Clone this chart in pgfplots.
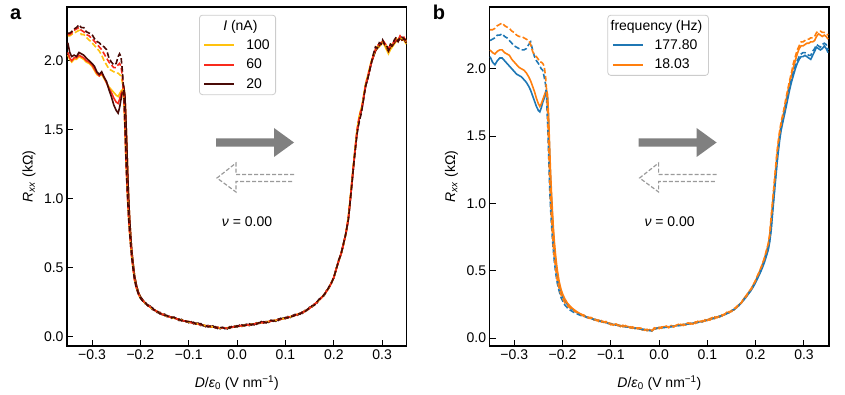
\documentclass[border=0pt]{standalone}
\usepackage{fontspec}
\setmainfont{Liberation Sans}
\usepackage{pgfplots}
\pgfplotsset{compat=1.18}
\usepackage{pgfplotstable}

\definecolor{c100}{HTML}{FFC20E}
\definecolor{c60}{HTML}{F92A1C}
\definecolor{c20}{HTML}{4A0A06}
\definecolor{cblue}{HTML}{1F77B4}
\definecolor{corange}{HTML}{FF7F0E}
\definecolor{arrowgray}{HTML}{808080}
\definecolor{dashgray}{HTML}{9A9A9A}

% panel a: solid (s) and dashed (d) sweeps for I = 100, 60, 20 nA
\pgfplotstableread{
x s100 s60 s20 d100 d60 d20
-0.350 2.04 2.06 2.13 2.18 2.19 2.20
-0.346 2.01 2.02 2.06 2.18 2.19 2.20
-0.342 1.99 2.00 2.03 2.19 2.20 2.21
-0.337 2.01 2.02 2.04 2.20 2.22 2.23
-0.332 2.01 2.02 2.03 2.21 2.23 2.24
-0.327 2.03 2.04 2.06 2.22 2.24 2.26
-0.322 2.02 2.03 2.05 2.19 2.22 2.24
-0.317 2.01 2.02 2.04 2.19 2.21 2.24
-0.312 1.99 2.00 2.02 2.17 2.19 2.21
-0.306 1.98 1.99 2.00 2.15 2.18 2.20
-0.300 1.96 1.97 1.98 2.13 2.16 2.19
-0.295 1.93 1.94 1.96 2.11 2.14 2.16
-0.290 1.90 1.91 1.92 2.09 2.12 2.14
-0.285 1.89 1.89 1.90 2.07 2.10 2.13
-0.280 1.90 1.91 1.92 2.04 2.08 2.11
-0.275 1.87 1.88 1.88 2.00 2.05 2.10
-0.270 1.84 1.84 1.85 1.97 2.02 2.08
-0.265 1.81 1.80 1.79 1.94 1.99 2.02
-0.260 1.79 1.77 1.74 1.93 1.97 1.99
-0.255 1.77 1.73 1.68 1.92 1.95 1.97
-0.250 1.75 1.70 1.64 1.91 1.95 1.98
-0.246 1.74 1.69 1.62 1.91 1.97 2.03
-0.243 1.76 1.72 1.66 1.90 1.98 2.05
-0.240 1.78 1.76 1.72 1.89 1.96 2.03
-0.237 1.79 1.78 1.77 1.84 1.88 1.92
-0.234 1.80 1.80 1.80 1.70 1.72 1.75
-0.232 1.74 1.74 1.75 1.50 1.52 1.54
-0.230 1.58 1.58 1.58 1.30 1.30 1.32
-0.228 1.38 1.38 1.38 1.12 1.12 1.13
-0.226 1.16 1.16 1.16 0.97 0.97 0.98
-0.224 0.98 0.98 0.98 0.84 0.84 0.85
-0.222 0.84 0.84 0.84 0.74 0.74 0.75
-0.220 0.73 0.73 0.73 0.66 0.66 0.66
-0.218 0.63 0.63 0.63 0.58 0.58 0.58
-0.215 0.53 0.53 0.53 0.49 0.49 0.49
-0.212 0.44 0.44 0.44 0.41 0.41 0.41
-0.208 0.37 0.37 0.37 0.35 0.35 0.35
-0.204 0.32 0.32 0.32 0.31 0.31 0.31
-0.200 0.29 0.29 0.29 0.28 0.28 0.28
-0.195 .262 .262 .268 .262 .262 .258
-0.190 .245 .245 .240 .245 .245 .251
-0.185 .228 .228 .232 .228 .228 .225
-0.180 .216 .216 .223 .216 .216 .218
-0.175 .203 .203 .197 .203 .203 .210
-0.170 .192 .192 .194 .192 .192 .187
-0.165 .182 .182 .175 .182 .182 .186
-0.160 .172 .172 .177 .172 .172 .166
-0.155 .163 .163 .160 .163 .163 .166
-0.150 .156 .156 .164 .156 .156 .154
-0.145 .150 .150 .146 .150 .150 .155
-0.140 .145 .145 .148 .145 .145 .138
-0.135 .140 .140 .134 .140 .140 .142
-0.130 .135 .135 .140 .135 .135 .141
-0.125 .130 .130 .132 .130 .130 .126
-0.120 .125 .125 .118 .125 .125 .128
-0.115 .120 .120 .126 .120 .120 .115
-0.110 .115 .115 .113 .115 .115 .122
-0.105 .111 .111 .115 .111 .111 .108
-0.100 .107 .107 .102 .107 .107 .111
-0.095 .103 .103 .109 .103 .103 .099
-0.090 .099 .099 .094 .099 .099 .105
-0.085 .095 .095 .099 .095 .095 .092
-0.080 .091 .091 .098 .091 .091 .093
-0.075 .088 .088 .082 .088 .088 .095
-0.070 .084 .084 .086 .084 .084 .079
-0.065 .080 .080 .073 .080 .080 .084
-0.060 .077 .077 .082 .077 .077 .071
-0.055 .074 .074 .071 .074 .074 .077
-0.050 .071 .071 .079 .071 .071 .069
-0.045 .068 .068 .064 .068 .068 .073
-0.040 .066 .066 .069 .066 .066 .059
-0.035 .064 .064 .058 .064 .064 .066
-0.030 .062 .062 .067 .062 .062 .068
-0.025 .062 .062 .064 .062 .062 .058
-0.020 .064 .064 .057 .064 .064 .067
-0.015 .067 .067 .073 .067 .067 .062
-0.010 .070 .070 .068 .070 .070 .077
-0.005 .073 .073 .077 .073 .073 .070
0.000 .076 .076 .071 .076 .076 .080
0.005 .078 .078 .084 .078 .078 .074
0.010 .080 .080 .075 .080 .080 .086
0.015 .082 .082 .086 .082 .082 .079
0.020 .084 .084 .091 .084 .084 .086
0.025 .087 .087 .081 .087 .087 .094
0.030 .090 .090 .092 .090 .090 .085
0.035 .093 .093 .086 .093 .093 .097
0.040 .096 .096 .101 .096 .096 .090
0.045 .099 .099 .096 .099 .099 .102
0.050 .102 .102 .110 .102 .102 .100
0.055 .104 .104 .100 .104 .104 .109
0.060 .107 .107 .110 .107 .107 .100
0.065 .110 .110 .104 .110 .110 .112
0.070 .113 .113 .118 .113 .113 .119
0.075 .116 .116 .118 .116 .116 .112
0.080 .119 .119 .112 .119 .119 .122
0.085 .123 .123 .129 .123 .123 .118
0.090 .127 .127 .125 .127 .127 .134
0.095 .131 .131 .135 .131 .131 .128
0.100 .136 .136 .131 .136 .136 .140
0.105 .140 .140 .146 .140 .140 .136
0.110 .145 .145 .140 .145 .145 .151
0.115 .150 .150 .154 .150 .150 .147
0.120 .155 .155 .162 .155 .155 .157
0.125 .162 .162 .156 .162 .162 .169
0.130 .168 .168 .170 .168 .168 .163
0.135 .176 .176 .169 .176 .176 .180
0.140 .185 .185 .190 .185 .185 .179
0.145 .195 .195 .192 .195 .195 .198
0.150 .207 .207 .215 .207 .207 .205
0.155 .220 .220 .216 .220 .220 .225
0.160 .235 .235 .238 .235 .235 .228
0.165 .250 .250 .244 .250 .250 .252
0.170 .267 .267 .272 .267 .267 .273
0.175 .285 .285 .287 .285 .285 .281
0.180 .305 .305 .298 .305 .305 .308
0.185 .330 .330 .336 .330 .330 .325
0.190 .356 .356 .354 .356 .356 .363
0.195 .390 .390 .394 .390 .390 .387
0.200 .430 .430 .425 .430 .430 .434
0.205 .490 .490 .496 .490 .490 .486
0.210 .550 .550 .545 .550 .550 .556
0.215 .600 .600 .604 .600 .600 .597
0.220 .670 .670 .677 .670 .670 .672
0.225 .750 .750 .744 .750 .750 .752
0.230 .86 .85 .85 .87 .86 .85
0.233 .96 .95 .95 .97 .96 .95
0.236 1.07 1.06 1.06 1.08 1.07 1.06
0.239 1.18 1.17 1.17 1.19 1.18 1.17
0.242 1.29 1.28 1.28 1.30 1.29 1.28
0.245 1.39 1.38 1.38 1.40 1.39 1.38
0.248 1.49 1.48 1.48 1.50 1.49 1.47
0.251 1.56 1.55 1.55 1.57 1.56 1.53
0.254 1.62 1.60 1.60 1.62 1.61 1.58
0.257 1.65 1.64 1.64 1.66 1.65 1.62
0.260 1.70 1.69 1.69 1.71 1.70 1.69
0.263 1.77 1.76 1.76 1.78 1.77 1.76
0.266 1.83 1.82 1.82 1.84 1.83 1.82
0.270 1.88 1.87 1.87 1.89 1.88 1.87
0.274 1.94 1.93 1.93 1.95 1.94 1.93
0.278 2.00 1.99 1.99 2.00 1.99 1.99
0.282 2.04 2.03 2.03 2.04 2.04 2.05
0.286 2.07 2.07 2.07 2.08 2.08 2.10
0.290 2.09 2.10 2.10 2.10 2.11 2.09
0.294 2.10 2.11 2.11 2.12 2.12 2.13
0.298 2.12 2.13 2.13 2.13 2.13 2.12
0.301 2.13 2.14 2.14 2.14 2.15 2.15
0.305 2.11 2.12 2.12 2.13 2.13 2.12
0.309 2.08 2.10 2.10 2.10 2.11 2.11
0.313 2.05 2.07 2.07 2.08 2.09 2.08
0.317 2.08 2.10 2.10 2.11 2.11 2.12
0.321 2.10 2.11 2.11 2.12 2.12 2.11
0.325 2.12 2.13 2.13 2.14 2.14 2.15
0.329 2.14 2.15 2.15 2.16 2.15 2.17
0.333 2.14 2.14 2.14 2.15 2.15 2.14
0.337 2.16 2.17 2.17 2.17 2.18 2.17
0.341 2.15 2.15 2.15 2.16 2.16 2.17
0.345 2.15 2.16 2.16 2.17 2.17 2.16
0.348 2.13 2.14 2.14 2.15 2.15 2.15
0.350 2.12 2.13 2.13 2.14 2.14 2.13
}\currtab

% panel b: solid (s) and dashed (d) sweeps, blue = 177.80 Hz, orange = 18.03 Hz
\pgfplotstableread{
x sb so db do
-0.350 2.09 2.14 2.21 2.29
-0.345 2.05 2.12 2.22 2.29
-0.340 2.03 2.11 2.23 2.30
-0.335 2.06 2.13 2.25 2.32
-0.330 2.08 2.14 2.25 2.33
-0.325 2.08 2.14 2.26 2.34
-0.320 2.06 2.12 2.24 2.32
-0.315 2.04 2.11 2.23 2.31
-0.310 2.02 2.10 2.21 2.30
-0.305 2.00 2.07 2.19 2.28
-0.300 1.98 2.05 2.17 2.27
-0.295 1.96 2.03 2.16 2.25
-0.290 1.95 2.01 2.15 2.24
-0.285 1.94 2.00 2.14 2.24
-0.280 1.92 1.99 2.14 2.23
-0.275 1.90 1.97 2.15 2.22
-0.270 1.87 1.94 2.18 2.21
-0.266 1.84 1.91 2.20 2.18
-0.262 1.80 1.87 2.14 2.13
-0.258 1.76 1.83 2.09 2.10
-0.254 1.72 1.78 2.06 2.09
-0.250 1.69 1.74 2.04 2.07
-0.247 1.68 1.72 2.02 2.05
-0.244 1.71 1.74 2.00 2.05
-0.241 1.75 1.77 1.99 2.04
-0.238 1.78 1.80 1.94 2.02
-0.235 1.81 1.83 1.88 1.94
-0.233 1.82 1.84 1.78 1.84
-0.231 1.78 1.81 1.60 1.68
-0.229 1.62 1.66 1.38 1.45
-0.227 1.40 1.45 1.15 1.22
-0.225 1.20 1.25 0.98 1.04
-0.223 1.04 1.09 0.85 0.90
-0.221 0.90 0.95 0.74 0.78
-0.219 0.78 0.82 0.65 0.68
-0.217 0.68 0.72 0.57 0.60
-0.214 0.57 0.60 0.48 0.51
-0.211 0.48 0.51 0.41 0.43
-0.207 0.40 0.42 0.35 0.37
-0.203 0.34 0.36 0.30 0.32
-0.199 0.30 0.32 0.27 0.29
-0.195 0.275 0.29 0.245 0.26
-0.190 0.25 0.26 0.225 0.24
-0.185 0.232 0.24 0.21 0.225
-0.180 0.215 0.222 0.198 0.212
-0.175 0.202 0.208 0.188 0.20
-0.170 0.19 0.195 0.18 0.19
-0.165 0.18 0.184 0.172 0.18
-0.160 0.172 0.175 0.165 0.172
-0.155 .164 .170 .162 .160
-0.150 .157 .152 .155 .163
-0.145 .150 .154 .148 .147
-0.140 .145 .152 .143 .147
-0.135 .140 .134 .138 .147
-0.130 .135 .137 .133 .130
-0.125 .130 .123 .128 .134
-0.120 .125 .130 .123 .119
-0.115 .120 .117 .118 .123
-0.110 .115 .123 .113 .113
-0.105 .111 .107 .109 .116
-0.100 .106 .109 .104 .099
-0.095 .102 .096 .100 .104
-0.090 .099 .104 .097 .105
-0.085 .096 .098 .094 .092
-0.080 .092 .085 .090 .095
-0.075 .089 .095 .087 .084
-0.070 .086 .084 .084 .093
-0.065 .083 .087 .081 .080
-0.060 .080 .075 .078 .084
-0.055 .077 .083 .075 .073
-0.050 .075 .070 .073 .081
-0.045 .072 .076 .070 .069
-0.040 .069 .076 .067 .071
-0.035 .066 .060 .064 .073
-0.030 .063 .065 .061 .058
-0.025 .061 .054 .059 .065
-0.020 .058 .063 .056 .052
-0.015 .055 .052 .054 .058
-0.010 .068 .076 .066 .066
-0.005 .074 .070 .072 .079
0.000 .077 .080 .075 .070
0.005 .079 .073 .077 .082
0.010 .080 .085 .078 .082
0.015 .082 .084 .080 .089
0.020 .084 .077 .082 .079
0.025 .086 .093 .084 .090
0.030 .089 .084 .087 .083
0.035 .091 .094 .089 .094
0.040 .094 .102 .092 .092
0.045 .097 .093 .095 .102
0.050 .100 .103 .098 .093
0.055 .103 .097 .101 .105
0.060 .106 .111 .104 .112
0.065 .108 .110 .106 .104
0.070 .111 .104 .109 .114
0.075 .114 .120 .112 .109
0.080 .118 .116 .116 .125
0.085 .121 .125 .119 .118
0.090 .125 .120 .123 .129
0.095 .130 .136 .128 .126
0.100 .135 .130 .133 .141
0.105 .140 .144 .138 .133
0.110 .145 .152 .143 .147
0.115 .150 .144 .148 .157
0.120 .156 .158 .154 .151
0.125 .162 .155 .160 .166
0.130 .168 .173 .166 .162
0.135 .175 .172 .173 .178
0.140 .183 .191 .181 .181
0.145 .192 .188 .190 .197
0.150 .200 .206 .201 .196
0.155 .212 .208 .213 .221
0.160 .225 .233 .226 .225
0.165 .241 .247 .243 .252
0.170 .260 .259 .262 .261
0.175 .282 .290 .285 .293
0.180 .303 .315 .307 .305
0.185 .328 .338 .332 .342
0.190 .352 .357 .357 .364
0.195 .381 .396 .386 .395
0.200 .414 .428 .420 .432
0.205 .452 .470 .458 .474
0.210 .490 .512 .498 .515
0.214 .524 .548 .533 .552
0.218 .562 .590 .572 .594
0.222 .608 .642 .620 .648
0.226 .655 .695 .668 .702
0.229 .715 .762 .730 .770
0.232 .800 .880 .820 .900
0.235 0.93 1.00 0.95 1.02
0.238 1.05 1.12 1.07 1.14
0.241 1.17 1.24 1.19 1.26
0.244 1.29 1.36 1.31 1.38
0.247 1.39 1.45 1.41 1.47
0.250 1.48 1.53 1.50 1.55
0.253 1.55 1.59 1.57 1.61
0.256 1.60 1.64 1.62 1.66
0.259 1.65 1.69 1.67 1.71
0.262 1.70 1.75 1.72 1.77
0.266 1.77 1.82 1.79 1.84
0.270 1.84 1.89 1.86 1.91
0.274 1.90 1.95 1.92 1.97
0.278 1.95 2.01 1.97 2.04
0.282 2.00 2.06 2.02 2.09
0.286 2.04 2.11 2.06 2.14
0.290 2.07 2.15 2.09 2.17
0.294 2.09 2.17 2.11 2.20
0.298 2.09 2.17 2.12 2.20
0.302 2.10 2.18 2.12 2.21
0.306 2.09 2.19 2.11 2.22
0.310 2.08 2.19 2.10 2.22
0.314 2.07 2.20 2.10 2.23
0.318 2.10 2.20 2.13 2.23
0.322 2.13 2.21 2.15 2.24
0.326 2.16 2.24 2.18 2.27
0.330 2.15 2.26 2.17 2.28
0.334 2.14 2.25 2.16 2.28
0.338 2.15 2.24 2.18 2.27
0.342 2.17 2.25 2.19 2.27
0.346 2.15 2.24 2.18 2.26
0.350 2.12 2.22 2.14 2.25
}\freqtab

\pgfplotsset{
  rxx/.style={
    scale only axis, width=339.5pt, height=339pt,
    xtick={-0.3,-0.2,-0.1,0,0.1,0.2,0.3},
    xticklabels={−0.3,−0.2,−0.1,0.0,0.1,0.2,0.3},
    ytick={0,0.5,1,1.5,2},
    yticklabels={0.0,0.5,1.0,1.5,2.0},
    tick align=inside, xtick pos=lower, ytick pos=left,
    major tick length=6pt,
    every tick/.style={black, line width=1pt},
    axis line style={line width=1.3pt},
    tick label style={font=\fontsize{14}{16}\selectfont},
    label style={font=\fontsize{14}{16}\selectfont},
    xlabel={\textit{D}/\textit{ε}\textsubscript{0} (V nm\textsuperscript{−1})},
    ylabel={\textit{R}\textsubscript{\textit{xx}} (kΩ)},
    xlabel style={at={(axis description cs:0.5,-0.11)}, anchor=center},
    ylabel style={at={(axis description cs:-0.112,0.5)}, anchor=center},
    legend image code/.code={\draw[##1, line width=2pt, draw opacity=1] (0pt,0pt) -- (30pt,0pt);
      \path (39pt,0pt);},
    legend cell align=left,
    legend style={anchor=north west, draw=black!20, thick,
      rounded corners=3pt, fill=white, fill opacity=0.8, text opacity=1,
      inner xsep=4pt, inner ysep=3pt, row sep=4pt,
      font=\fontsize{14}{16}\selectfont},
    every axis plot/.append style={line width=1.6pt},
  },
  dsh/.style={dash pattern=on 5.5pt off 2.5pt},
}

\begin{document}
\begin{tikzpicture}
\begin{axis}[rxx, at={(0pt,0pt)}, anchor=south west,
  xmin=-0.3517, xmax=0.3503, ymin=-0.067, ymax=2.389,
  legend style={at={(0.389,0.977)}}]
  \addlegendimage{empty legend}
  \addlegendentry{\hspace{-23pt}\textit{I} (nA)}
  \addplot[c100] table[x=x, y=s100] {\currtab};
  \addlegendentry{100}
  \addplot[c60] table[x=x, y=s60] {\currtab};
  \addlegendentry{60}
  \addplot[c20] table[x=x, y=s20] {\currtab};
  \addlegendentry{20}
  \addplot[c100, dsh, forget plot] table[x=x, y=d100] {\currtab};
  \addplot[c60, dsh, forget plot] table[x=x, y=d60] {\currtab};
  \addplot[c20, dsh, forget plot] table[x=x, y=d20] {\currtab};
\end{axis}

\begin{axis}[rxx, at={(422.6pt,0pt)}, anchor=south west,
  xmin=-0.351, xmax=0.352, ymin=-0.059, ymax=2.459,
  legend style={at={(0.347,0.977)}}]
  \addlegendimage{empty legend}
  \addlegendentry{\hspace{-44pt}frequency (Hz)}
  \addplot[cblue] table[x=x, y=sb] {\freqtab};
  \addlegendentry{177.80}
  \addplot[corange] table[x=x, y=so] {\freqtab};
  \addlegendentry{18.03}
  \addplot[cblue, dsh, forget plot] table[x=x, y=db] {\freqtab};
  \addplot[corange, dsh, forget plot] table[x=x, y=do] {\freqtab};
\end{axis}

\begin{scope}[x=1pt, y=1pt]
  \foreach \dx in {0, 422.6} {
    \begin{scope}[xshift=\dx pt]
      \fill[arrowgray] (149,199.3) -- (207,199.3) -- (207,189) -- (227,203.5)
        -- (207,218) -- (207,207.7) -- (149,207.7) -- cycle;
      \draw[dashgray, line width=1.2pt, dash pattern=on 4pt off 2pt]
        (227,171.5) -- (169,171.5) -- (169,183) -- (150,168) -- (169,154)
        -- (169,164.5) -- (227,164.5);
      \node[font=\fontsize{14}{16}\selectfont] at (180,124) {\textit{ν} = 0.00};
    \end{scope}
  }
  \node[anchor=base west, inner sep=0pt, font=\bfseries\fontsize{20}{24}\selectfont] at (-57,326) {a};
  \node[anchor=base west, inner sep=0pt, font=\bfseries\fontsize{20}{24}\selectfont] at (365.6,326) {b};
  \pgfresetboundingbox
  \path[use as bounding box] (-67,-48) rectangle (778,346);
\end{scope}
\end{tikzpicture}
\end{document}
